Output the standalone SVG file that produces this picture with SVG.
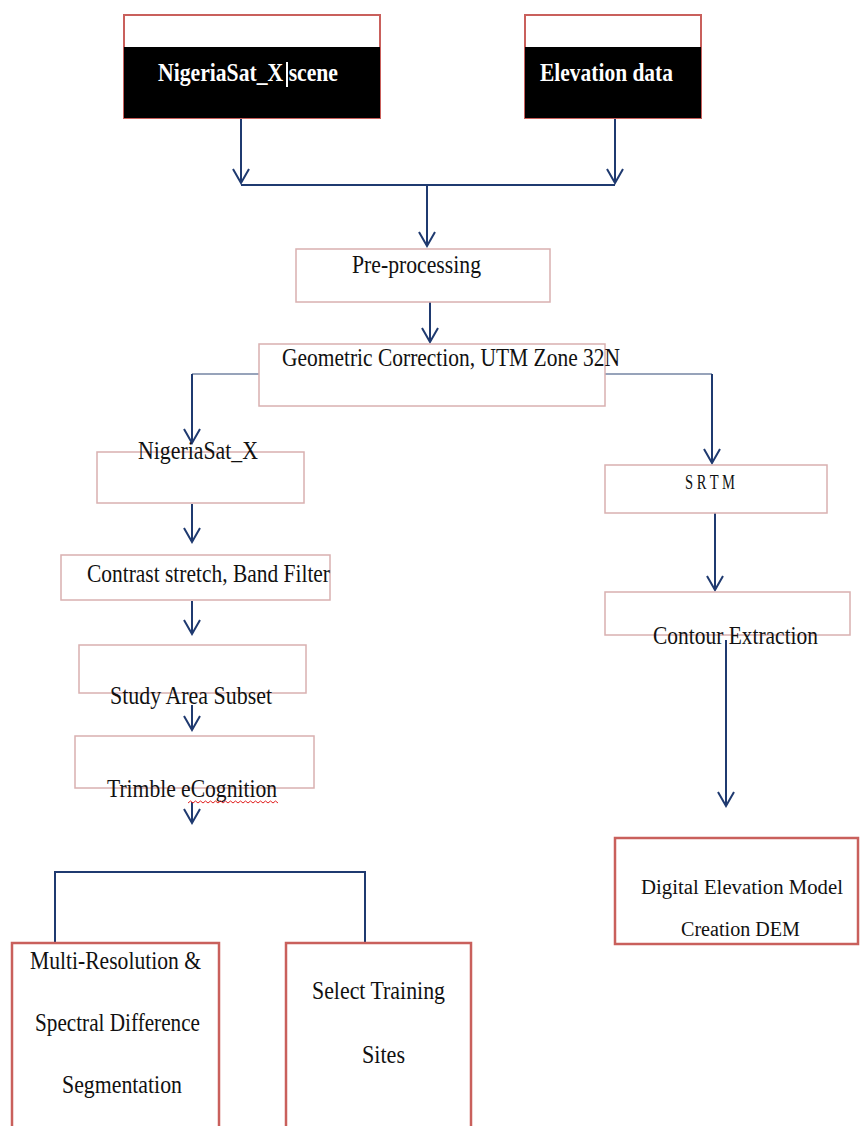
<svg xmlns="http://www.w3.org/2000/svg" width="862" height="1126" viewBox="0 0 862 1126">
<style>
.box{fill:#ffffff;stroke:#d9b0b0;stroke-width:1.5}
.boxs{fill:#ffffff;stroke:#c9605c;stroke-width:2.5}
.top{fill:#ffffff;stroke:#c9605c;stroke-width:2}
.t{font-family:"Liberation Serif","Times New Roman",serif;font-size:26px;fill:#111111}
.ts{font-family:"Liberation Serif","Times New Roman",serif;font-size:20px;fill:#111111}
.tw{font-family:"Liberation Serif","Times New Roman",serif;font-size:26px;font-weight:bold;fill:#ffffff}
.c{fill:none;stroke:#1f3a70;stroke-width:2}
.cg{fill:none;stroke:#7585a3;stroke-width:1.5}
</style>
<defs>
<marker id="ah" markerUnits="userSpaceOnUse" viewBox="-16 -10 18 20" refX="0" refY="0" markerWidth="18" markerHeight="20" orient="auto">
<path d="M-14,-8 L0,0 L-14,8" fill="none" stroke="#1f3a70" stroke-width="2"/>
</marker>
</defs>

<g id="connectors">
<path class="c" d="M241,118 V183" marker-end="url(#ah)"/>
<path class="c" d="M615,118 V183" marker-end="url(#ah)"/>
<path class="c" d="M241,185 H615"/>
<path class="c" d="M427,185 V246" marker-end="url(#ah)"/>
<path class="c" d="M430,302 V342" marker-end="url(#ah)"/>
<path class="cg" d="M259,374 H192"/>
<path class="c" d="M192,374 V443" marker-end="url(#ah)"/>
<path class="cg" d="M605,374 H712"/>
<path class="c" d="M712,374 V463" marker-end="url(#ah)"/>
<path class="c" d="M192,504 V542" marker-end="url(#ah)"/>
<path class="c" d="M715,513 V590" marker-end="url(#ah)"/>
<path class="c" d="M192,601 V634" marker-end="url(#ah)"/>
<path class="c" d="M192,705 V730" marker-end="url(#ah)"/>
<path class="c" d="M726,640 V806" marker-end="url(#ah)"/>
<path class="c" d="M192,802 V823" marker-end="url(#ah)"/>
<path class="c" d="M55,943 V872 H365 V943"/>
</g>

<g id="node-nigeriasat-scene">
<rect class="top" x="124" y="15" width="256" height="103"/>
<rect x="124" y="47" width="256" height="71" fill="#000000"/>
<text class="tw" x="158" y="81" textLength="180" lengthAdjust="spacingAndGlyphs">NigeriaSat_X scene</text>
<line x1="287" y1="62" x2="287" y2="87" stroke="#ffffff" stroke-width="2"/>
</g>

<g id="node-elevation">
<rect class="top" x="525" y="15" width="176" height="103"/>
<rect x="525" y="47" width="176" height="71" fill="#000000"/>
<text class="tw" x="540" y="81" textLength="133" lengthAdjust="spacingAndGlyphs">Elevation data</text>
</g>

<g id="node-preprocessing">
<rect class="box" x="296" y="249" width="254" height="53"/>
<text class="t" x="352" y="273" textLength="129" lengthAdjust="spacingAndGlyphs">Pre-processing</text>
</g>

<g id="node-geometric">
<rect class="box" x="259" y="344" width="346" height="62"/>
<text class="t" x="282" y="366" textLength="338" lengthAdjust="spacingAndGlyphs">Geometric Correction, UTM Zone 32N</text>
</g>

<g id="node-nigeriasat">
<rect class="box" x="97" y="452" width="207" height="51"/>
<text class="t" x="138" y="459" textLength="120" lengthAdjust="spacingAndGlyphs">NigeriaSat_X</text>
</g>

<g id="node-contrast">
<rect class="box" x="61" y="555" width="269" height="45"/>
<text class="t" x="87" y="582" textLength="243" lengthAdjust="spacingAndGlyphs">Contrast stretch, Band Filter</text>
</g>

<g id="node-study">
<rect class="box" x="79" y="645" width="227" height="48"/>
<text class="t" x="110" y="704" textLength="162" lengthAdjust="spacingAndGlyphs">Study Area Subset</text>
</g>

<g id="node-trimble">
<rect class="box" x="75" y="736" width="239" height="52"/>
<text class="t" x="107" y="797" textLength="170" lengthAdjust="spacingAndGlyphs">Trimble eCognition</text>
<path d="M188,803 l2.5,-2 l2.5,2 l2.5,-2 l2.5,2 l2.5,-2 l2.5,2 l2.5,-2 l2.5,2 l2.5,-2 l2.5,2 l2.5,-2 l2.5,2 l2.5,-2 l2.5,2 l2.5,-2 l2.5,2 l2.5,-2 l2.5,2 l2.5,-2 l2.5,2 l2.5,-2 l2.5,2 l2.5,-2 l2.5,2 l2.5,-2 l2.5,2 l2.5,-2 l2.5,2 l2.5,-2 l2.5,2 l2.5,-2 l2.5,2 l2.5,-2 l2.5,2 l2.5,-2 l2.5,2" fill="none" stroke="#e02020" stroke-width="1"/>
</g>

<g id="node-srtm">
<rect class="box" x="605" y="465" width="222" height="48"/>
<text class="ts" x="685" y="489" textLength="50" lengthAdjust="spacingAndGlyphs">S R T M</text>
</g>

<g id="node-contour">
<rect class="box" x="605" y="592" width="245" height="43"/>
<text class="t" x="653" y="644" textLength="165" lengthAdjust="spacingAndGlyphs">Contour Extraction</text>
</g>

<g id="node-dem">
<rect class="boxs" x="615" y="838" width="243" height="106"/>
<text class="ts" x="641" y="894" textLength="202" lengthAdjust="spacingAndGlyphs">Digital Elevation Model</text>
<text class="ts" x="681" y="936" textLength="119" lengthAdjust="spacingAndGlyphs">Creation DEM</text>
</g>

<g id="node-multires">
<rect class="boxs" x="12" y="943" width="207" height="200"/>
<text class="t" x="30" y="969" textLength="171" lengthAdjust="spacingAndGlyphs">Multi-Resolution &amp;</text>
<text class="t" x="35" y="1031" textLength="165" lengthAdjust="spacingAndGlyphs">Spectral Difference</text>
<text class="t" x="62" y="1093" textLength="120" lengthAdjust="spacingAndGlyphs">Segmentation</text>
</g>

<g id="node-training">
<rect class="boxs" x="286" y="943" width="185" height="200"/>
<text class="t" x="312" y="999" textLength="133" lengthAdjust="spacingAndGlyphs">Select Training</text>
<text class="t" x="362" y="1063" textLength="43" lengthAdjust="spacingAndGlyphs">Sites</text>
</g>
</svg>
